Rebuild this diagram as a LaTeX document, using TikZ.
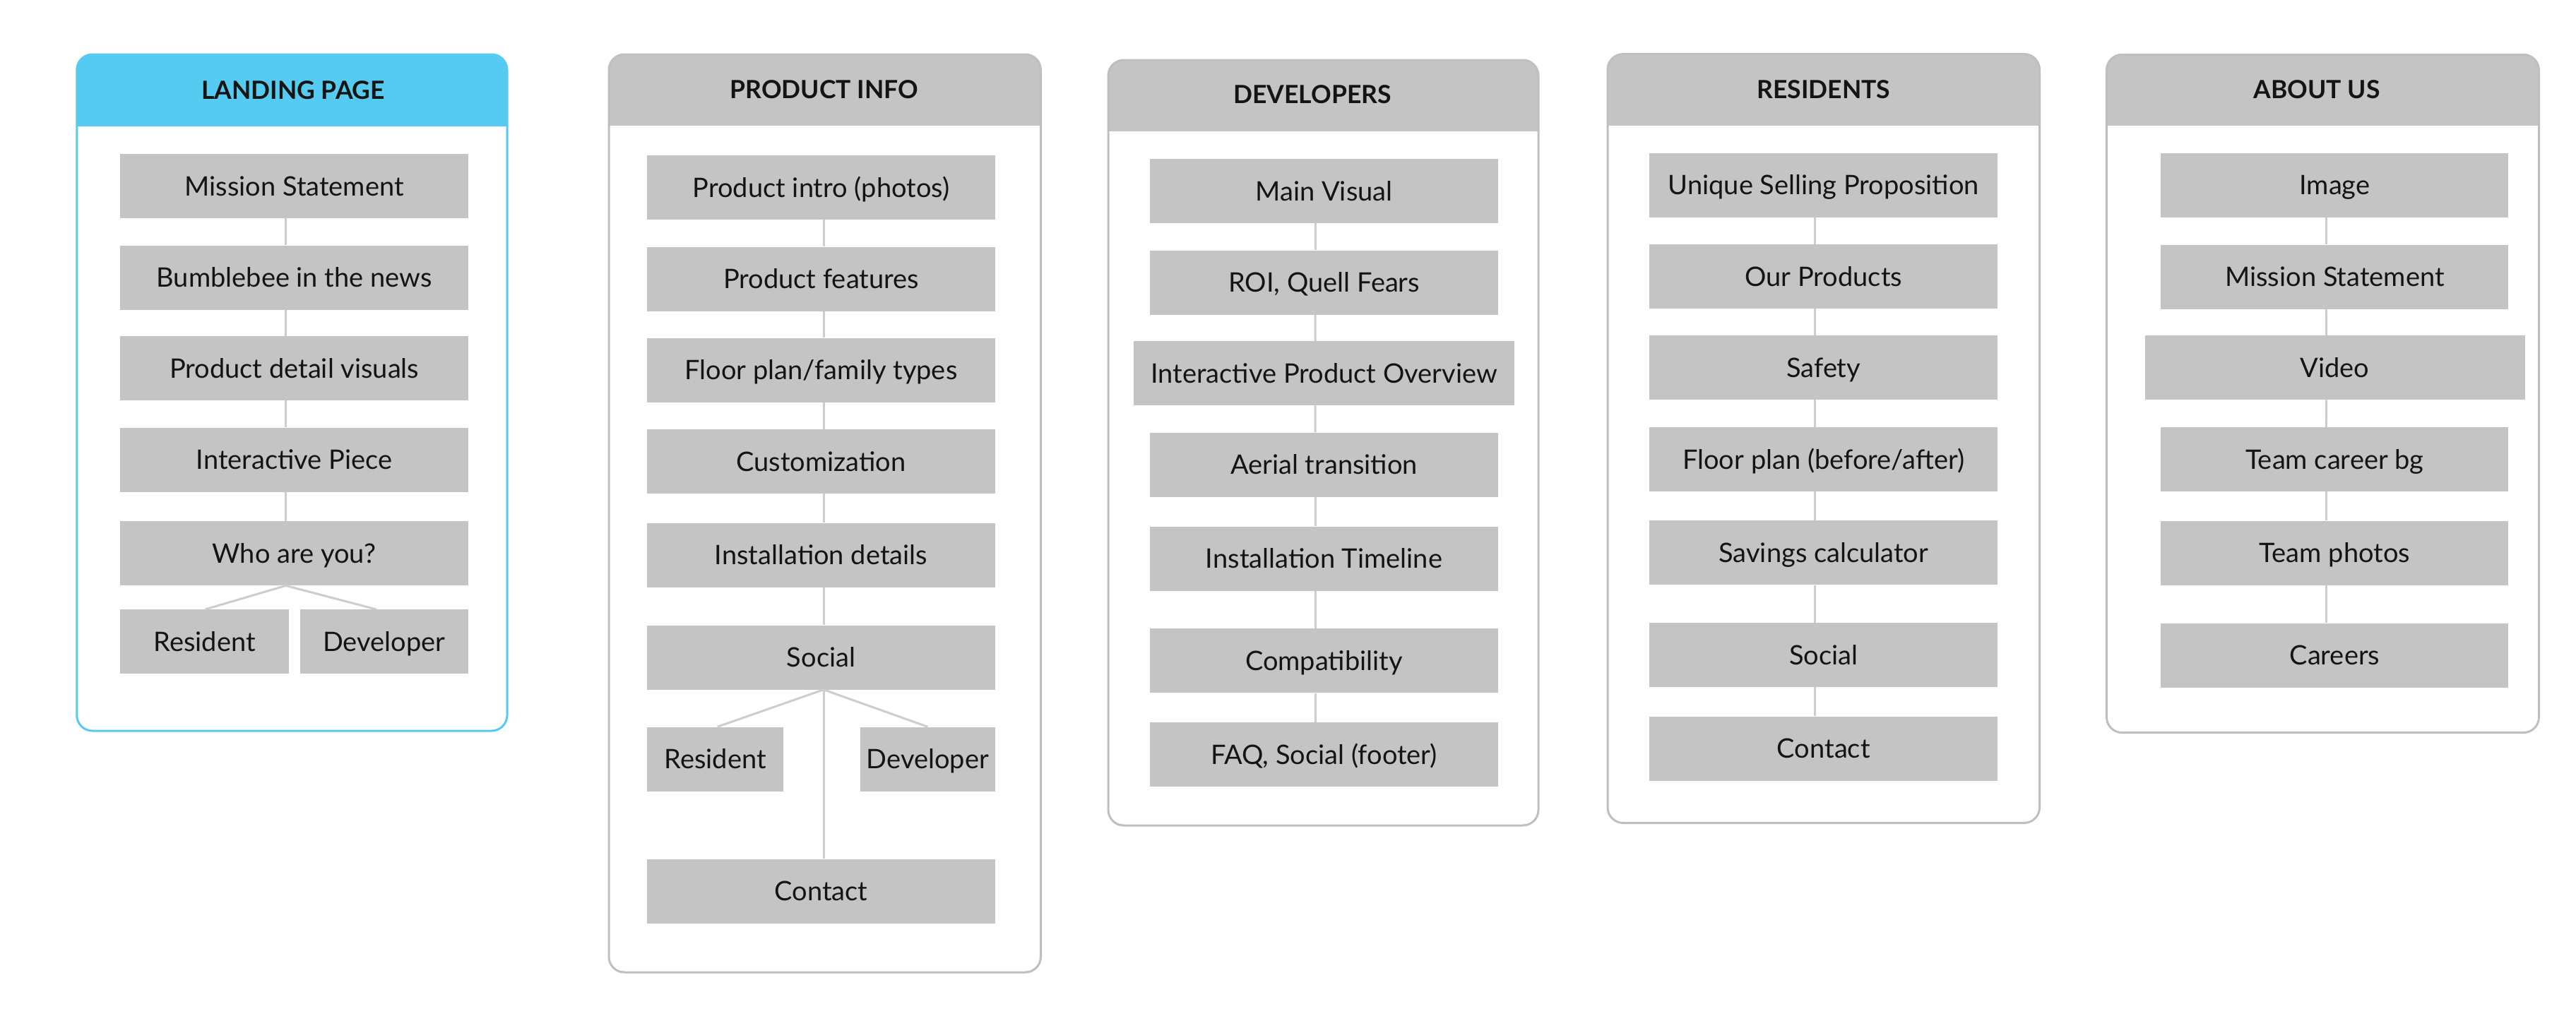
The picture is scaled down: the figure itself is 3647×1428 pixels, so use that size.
\documentclass[tikz,border=0pt]{standalone}
\usepackage{fontspec}
\setmainfont{Lato}
\definecolor{boxgray}{HTML}{C4C4C4}
\definecolor{linegray}{HTML}{CDCDCD}
\definecolor{framegray}{HTML}{BFBFBF}
\definecolor{skyblue}{HTML}{56CBF1}
\definecolor{ink}{HTML}{141414}
\newcommand\mkpanel[7]{% x1 y1 x2 y2 headerbottom fill border
  \begin{scope}
    \clip (#1-5,-#2+5) rectangle (#3+5,-#5);
    \fill[#6,rounded corners=22pt] (#1,-#2) rectangle (#3,-#4);
  \end{scope}
  \draw[#7,line width=3pt,rounded corners=22pt] (#1,-#2) rectangle (#3,-#4);
}
\begin{document}
\begin{tikzpicture}[x=1pt,y=1pt,
  item/.style={fill=boxgray,inner sep=0pt,minimum height=91pt,minimum width=492.5pt,
    text=ink,font=\fontsize{38}{44}\selectfont,text height=27.2pt,text depth=0pt},
  ptitle/.style={inner sep=0pt,text=ink,font=\fontsize{35.5}{42}\selectfont\bfseries,
    text height=25.4pt,text depth=0pt},
  conn/.style={draw=linegray,line width=3pt}]
\useasboundingbox (0,0) rectangle (3647,-1428);
\fill[white] (0,0) rectangle (3647,-1428);

% ---------- panels ----------
\mkpanel{108.75}{77}{718}{1035}{178}{skyblue}{skyblue}
\mkpanel{862}{77}{1473.5}{1377}{177.7}{boxgray}{framegray}
\mkpanel{1569}{85}{2178}{1169}{185.6}{boxgray}{framegray}
\mkpanel{2276}{76.5}{2887.5}{1165.5}{177}{boxgray}{framegray}
\mkpanel{2982.4}{77.3}{3594.5}{1037.6}{177.3}{boxgray}{framegray}

\node[ptitle] (t1) at (415,-127.5) {LANDING PAGE};
\node[ptitle] (t2) at (1166.7,-127) {PRODUCT INFO};
\node[ptitle] (t3) at (1858,-134) {DEVELOPERS};
\node[ptitle] (t4) at (2581.7,-126.5) {RESIDENTS};
\node[ptitle] (t5) at (3280,-126.5) {ABOUT US};

% ---------- landing page ----------
\node[item] (a1) at (416.7,-263.4) {Mission Statement};
\node[item] (a2) at (416.7,-393.1) {Bumblebee in the news};
\node[item] (a3) at (416.7,-521.5) {Product detail visuals};
\node[item] (a4) at (416.7,-651) {Interactive Piece};
\node[item] (a5) at (416.7,-783.7) {Who are you?};
\node[item,minimum width=238.4pt] (a6) at (289.6,-908.7) {Resident};
\node[item,minimum width=238.4pt] (a7) at (543.8,-908.7) {Developer};
\foreach \u/\v in {a1/a2,a2/a3,a3/a4,a4/a5}
  \draw[conn] ([xshift=-12pt]\u.south) -- ([xshift=-12pt]\v.north);
\draw[conn] ([xshift=-12pt]a5.south) -- ([xshift=1pt]a6.north);
\draw[conn] ([xshift=-12pt]a5.south) -- ([xshift=-11pt]a7.north);

% ---------- product info ----------
\node[item] (b1) at (1162.5,-265.75) {Product intro (photos)};
\node[item] (b2) at (1162.5,-395) {Product features};
\node[item] (b3) at (1162.5,-524) {Floor plan/family types};
\node[item] (b4) at (1162.5,-653.5) {Customization};
\node[item] (b5) at (1162.5,-786) {Installation details};
\node[item] (b6) at (1162.5,-931) {Social};
\node[item,minimum width=192.75pt] (b7) at (1012.6,-1075) {Resident};
\node[item,minimum width=190.75pt] (b8) at (1313.4,-1075) {Developer};
\node[item] (b9) at (1162.5,-1262) {Contact};
\foreach \u/\v in {b1/b2,b2/b3,b3/b4,b4/b5,b5/b6,b6/b9}
  \draw[conn] ([xshift=3.5pt]\u.south) -- ([xshift=3.5pt]\v.north);
\draw[conn] ([xshift=3.5pt]b6.south) -- ([xshift=3pt]b7.north);
\draw[conn] ([xshift=3.5pt]b6.south) -- (b8.north);

% ---------- developers ----------
\node[item,minimum width=492.3pt] (c1) at (1874.5,-270.7) {Main Visual};
\node[item,minimum width=492.3pt] (c2) at (1874.5,-400) {ROI, Quell Fears};
\node[item,minimum width=538.6pt] (c3) at (1874.7,-528.7) {Interactive Product Overview};
\node[item,minimum width=492.3pt] (c4) at (1874.5,-658) {Aerial transition};
\node[item,minimum width=492.3pt] (c5) at (1874.5,-791) {Installation Timeline};
\node[item,minimum width=492.3pt] (c6) at (1874.5,-935.8) {Compatibility};
\node[item,minimum width=492.3pt] (c7) at (1874.5,-1068.6) {FAQ, Social (footer)};
\foreach \u/\v in {c1/c2,c2/c3,c3/c4,c4/c5,c5/c6,c6/c7}
  \draw[conn] ([xshift=-12.5pt]\u.south) -- ([xshift=-12.5pt]\v.north);

% ---------- residents ----------
\node[item] (d1) at (2581.7,-262) {Unique Selling Proposition};
\node[item] (d2) at (2581.7,-391.6) {Our Products};
\node[item] (d3) at (2581.7,-520.5) {Safety};
\node[item] (d4) at (2581.7,-650.5) {Floor plan (before/after)};
\node[item] (d5) at (2581.7,-782.8) {Savings calculator};
\node[item] (d6) at (2581.7,-927.5) {Social};
\node[item] (d7) at (2581.7,-1060) {Contact};
\foreach \u/\v in {d1/d2,d2/d3,d3/d4,d4/d5,d5/d6,d6/d7}
  \draw[conn] ([xshift=-12.5pt]\u.south) -- ([xshift=-12.5pt]\v.north);

% ---------- about us ----------
\node[item,minimum width=492pt] (e1) at (3305.4,-262.2) {Image};
\node[item,minimum width=492pt] (e2) at (3305.4,-392) {Mission Statement};
\node[item,minimum width=538pt] (e3) at (3305.6,-520.6) {Video};
\node[item,minimum width=492pt] (e4) at (3305.4,-650.7) {Team career bg};
\node[item,minimum width=492pt] (e5) at (3305.4,-783) {Team photos};
\node[item,minimum width=492pt] (e6) at (3305.4,-928) {Careers};
\foreach \u/\v in {e1/e2,e2/e3,e3/e4,e4/e5,e5/e6}
  \draw[conn] ([xshift=-12pt]\u.south) -- ([xshift=-12pt]\v.north);
\end{tikzpicture}
\end{document}
